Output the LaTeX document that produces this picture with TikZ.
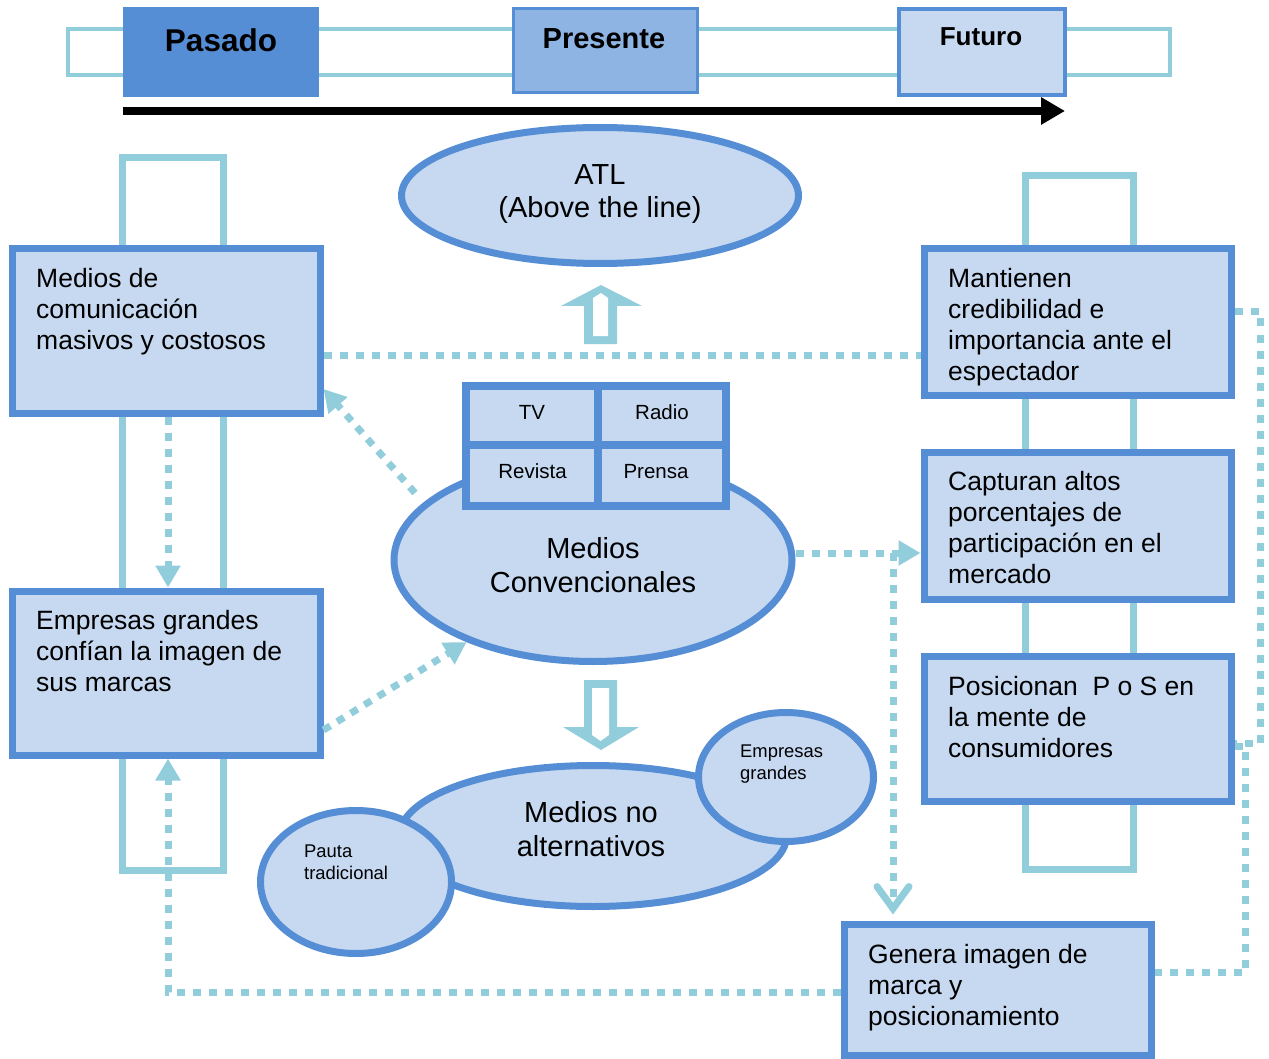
\documentclass[tikz,border=0pt]{standalone}
\usepackage{fontspec}
\setmainfont{Liberation Sans}
\usetikzlibrary{arrows.meta,shapes.geometric,calc}

\definecolor{boxfill}{HTML}{C6D9F1}
\definecolor{boxline}{HTML}{558ED5}
\definecolor{midblue}{HTML}{8EB4E3}
\definecolor{aqua}{HTML}{92CDDC}

\begin{document}
\begin{tikzpicture}[x=1pt,y=-1pt,
  blockbox/.style={rectangle, draw=boxline, fill=boxfill, line width=7pt, inner sep=0pt},
  oval/.style={ellipse, draw=boxline, fill=boxfill, line width=7pt, inner sep=0pt},
  cell/.style={rectangle, draw=boxline, fill=boxfill, line width=7.5pt, inner sep=0pt},
  frame/.style={draw=aqua, line width=7pt},
  dotline/.style={draw=aqua, line width=7pt, dash pattern=on 8pt off 8pt},
  tip/.style={-{Triangle[length=22pt,width=24pt]}},
  vtip/.style={-{Straight Barb[length=22pt,width=32pt,line cap=round]}},
  % multi-line texts are placed by the baseline of their last line
  boxtext/.style={anchor=base west, align=left, inner sep=0pt, font=\fontsize{26.5}{31}\selectfont},
  ovaltext/.style={anchor=base, align=center, inner sep=0pt, font=\fontsize{29}{33}\selectfont},
  celltext/.style={anchor=base, inner sep=0pt, font=\fontsize{20.5}{24}\selectfont},
  smalltext/.style={anchor=base west, align=left, inner sep=0pt, font=\fontsize{18.4}{22}\selectfont},
]
\useasboundingbox (0,0) rectangle (1269,1059);

% timeline band and period labels
\draw[draw=aqua, line width=4pt] (68,29) rectangle (1170,75);
\node[rectangle, fill=boxline, inner sep=0pt, minimum width=196pt, minimum height=90pt] (pasado) at (220.5,52) {};
\node[rectangle, draw=boxline, fill=midblue, line width=3pt, inner sep=0pt, minimum width=184pt, minimum height=84pt] (presente) at (605,50.5) {};
\node[rectangle, draw=boxline, fill=boxfill, line width=4pt, inner sep=0pt, minimum width=166pt, minimum height=86pt] (futuro) at (982,52) {};
\node[anchor=base, inner sep=0pt, font=\fontsize{31.5}{36}\selectfont\bfseries] (tpasado) at (221,52) {Pasado};
\node[anchor=base, inner sep=0pt, font=\fontsize{29}{34}\selectfont\bfseries] (tpresente) at (604,49) {Presente};
\node[anchor=base, inner sep=0pt, font=\fontsize{26}{30}\selectfont\bfseries] (tfuturo) at (981,46) {Futuro};
\coordinate (t0) at (123,111);
\coordinate (t1) at (1065,111);
\draw[line width=8pt, -{Triangle[length=24pt,width=26pt]}] (t0) -- (t1);

% tall frames behind the side columns
\draw[frame] (122,158) rectangle (223,870);
\draw[frame] (1025,176) rectangle (1133,869);

% left column
\node[blockbox, minimum width=308pt, minimum height=164pt] (b1) at (166,331) {};
\node[boxtext] (b1t) at (36,349) {Medios de\\comunicación\\masivos y costosos};
\node[blockbox, minimum width=308pt, minimum height=164pt] (b2) at (166,673) {};
\node[boxtext] (b2t) at (36,691) {Empresas grandes\\confían la imagen de\\sus marcas};

% right column
\node[blockbox, minimum width=307pt, minimum height=146pt] (b3) at (1077.5,322) {};
\node[boxtext] (b3t) at (948,380) {Mantienen\\credibilidad e\\importancia ante el\\espectador};
\node[blockbox, minimum width=307pt, minimum height=147pt] (b4) at (1077.5,525.5) {};
\node[boxtext] (b4t) at (948,583) {Capturan altos\\porcentajes de\\participación en el\\mercado};
\node[blockbox, minimum width=307pt, minimum height=144.5pt] (b5) at (1077.5,728.75) {};
\node[boxtext] (b5t) at (948,757) {Posicionan\ \ P o S en\\la mente de\\consumidores};
\node[blockbox, minimum width=307pt, minimum height=131pt] (b6) at (998,989.5) {};
\node[boxtext] (b6t) at (868,1025) {Genera imagen de\\marca y\\posicionamiento};

% ATL
\node[oval, minimum width=397pt, minimum height=136pt] (atl) at (600,195.5) {};
\node[ovaltext, font=\fontsize{29}{33}\selectfont] (atlt) at (600,218) {ATL\\(Above the line)};

% upward hollow arrow
\fill[aqua] (601,285) -- (561,306) -- (584,306) -- (584,344) -- (617,344) -- (617,306) -- (642,306) -- cycle;
\fill[white] (601,293) -- (608,298) -- (608,336) -- (593,336) -- (593,298) -- cycle;

% conventional media
\node[oval, minimum width=398pt, minimum height=203pt] (conv) at (593,560) {};
\node[ovaltext, font=\fontsize{29}{34}\selectfont] (convt) at (593,592) {Medios\\Convencionales};
\node[cell, minimum width=132pt, minimum height=59pt] (ctv) at (532,415.5) {};
\node[cell, minimum width=128pt, minimum height=59pt] (cradio) at (662,415.5) {};
\node[cell, minimum width=132pt, minimum height=61pt] (crev) at (532,475.5) {};
\node[cell, minimum width=128pt, minimum height=61pt] (cpren) at (662,475.5) {};
\node[celltext] (ctvt) at (532,419) {TV};
\node[celltext] (cradiot) at (662,419) {Radio};
\node[celltext] (crevt) at (532.5,478) {Revista};
\node[celltext] (cprent) at (656,478) {Prensa};

% downward hollow arrow
\fill[aqua] (584,680) -- (617,680) -- (617,727) -- (639,727) -- (601,750) -- (563,727) -- (584,727) -- cycle;
\fill[white] (592,688) -- (609,688) -- (609,735) -- (600.5,741) -- (592,735) -- cycle;

% non-alternative media
\node[oval, minimum width=387pt, minimum height=141pt] (noalt) at (593,836) {};
\node[ovaltext, font=\fontsize{29}{34}\selectfont] (noaltt) at (591,856) {Medios no\\alternativos};
\node[oval, minimum width=191pt, minimum height=143pt] (pauta) at (356,882) {};
\node[smalltext] (pautat) at (304,879) {Pauta\\tradicional};
\node[oval, minimum width=175pt, minimum height=129pt] (empg) at (786,777) {};
\node[smalltext] (empgt) at (740,779) {Empresas\\grandes};

% dotted connectors
\draw[dotline] (b1.east |- 0,355) -- (b3.west |- 0,355);
\draw[dotline, tip] ($(conv.center)+(-178,-67)$) -- (b1.east |- 0,389);
\draw[dotline, tip] (b2.east |- 0,730) -- (conv.213);
\draw[dotline, tip] (b1.south -| 168,0) -- (b2.north -| 168,0);
\coordinate (jn) at (893,553);
\draw[dotline, tip] (conv.east |- jn) -- (b4.west |- jn);
\draw[dotline, vtip] (jn) -- ($(jn |- b6.north)+(0,-6)$);
\coordinate (ra) at (1260,312);
\coordinate (rb) at (1260,743);
\draw[dotline] (b3.east |- ra) -- (ra) -- (rb) -- (b5.east |- rb);
\coordinate (rc) at (1245,746);
\coordinate (rd) at (1245,972);
\draw[dotline] (b5.east |- rc) -- (rc) -- (rd) -- (b6.east |- rd);
\coordinate (lb) at (168,992);
\draw[dotline, tip] (b6.west |- lb) -- (lb) -- (b2.south -| lb);
\end{tikzpicture}
\end{document}
